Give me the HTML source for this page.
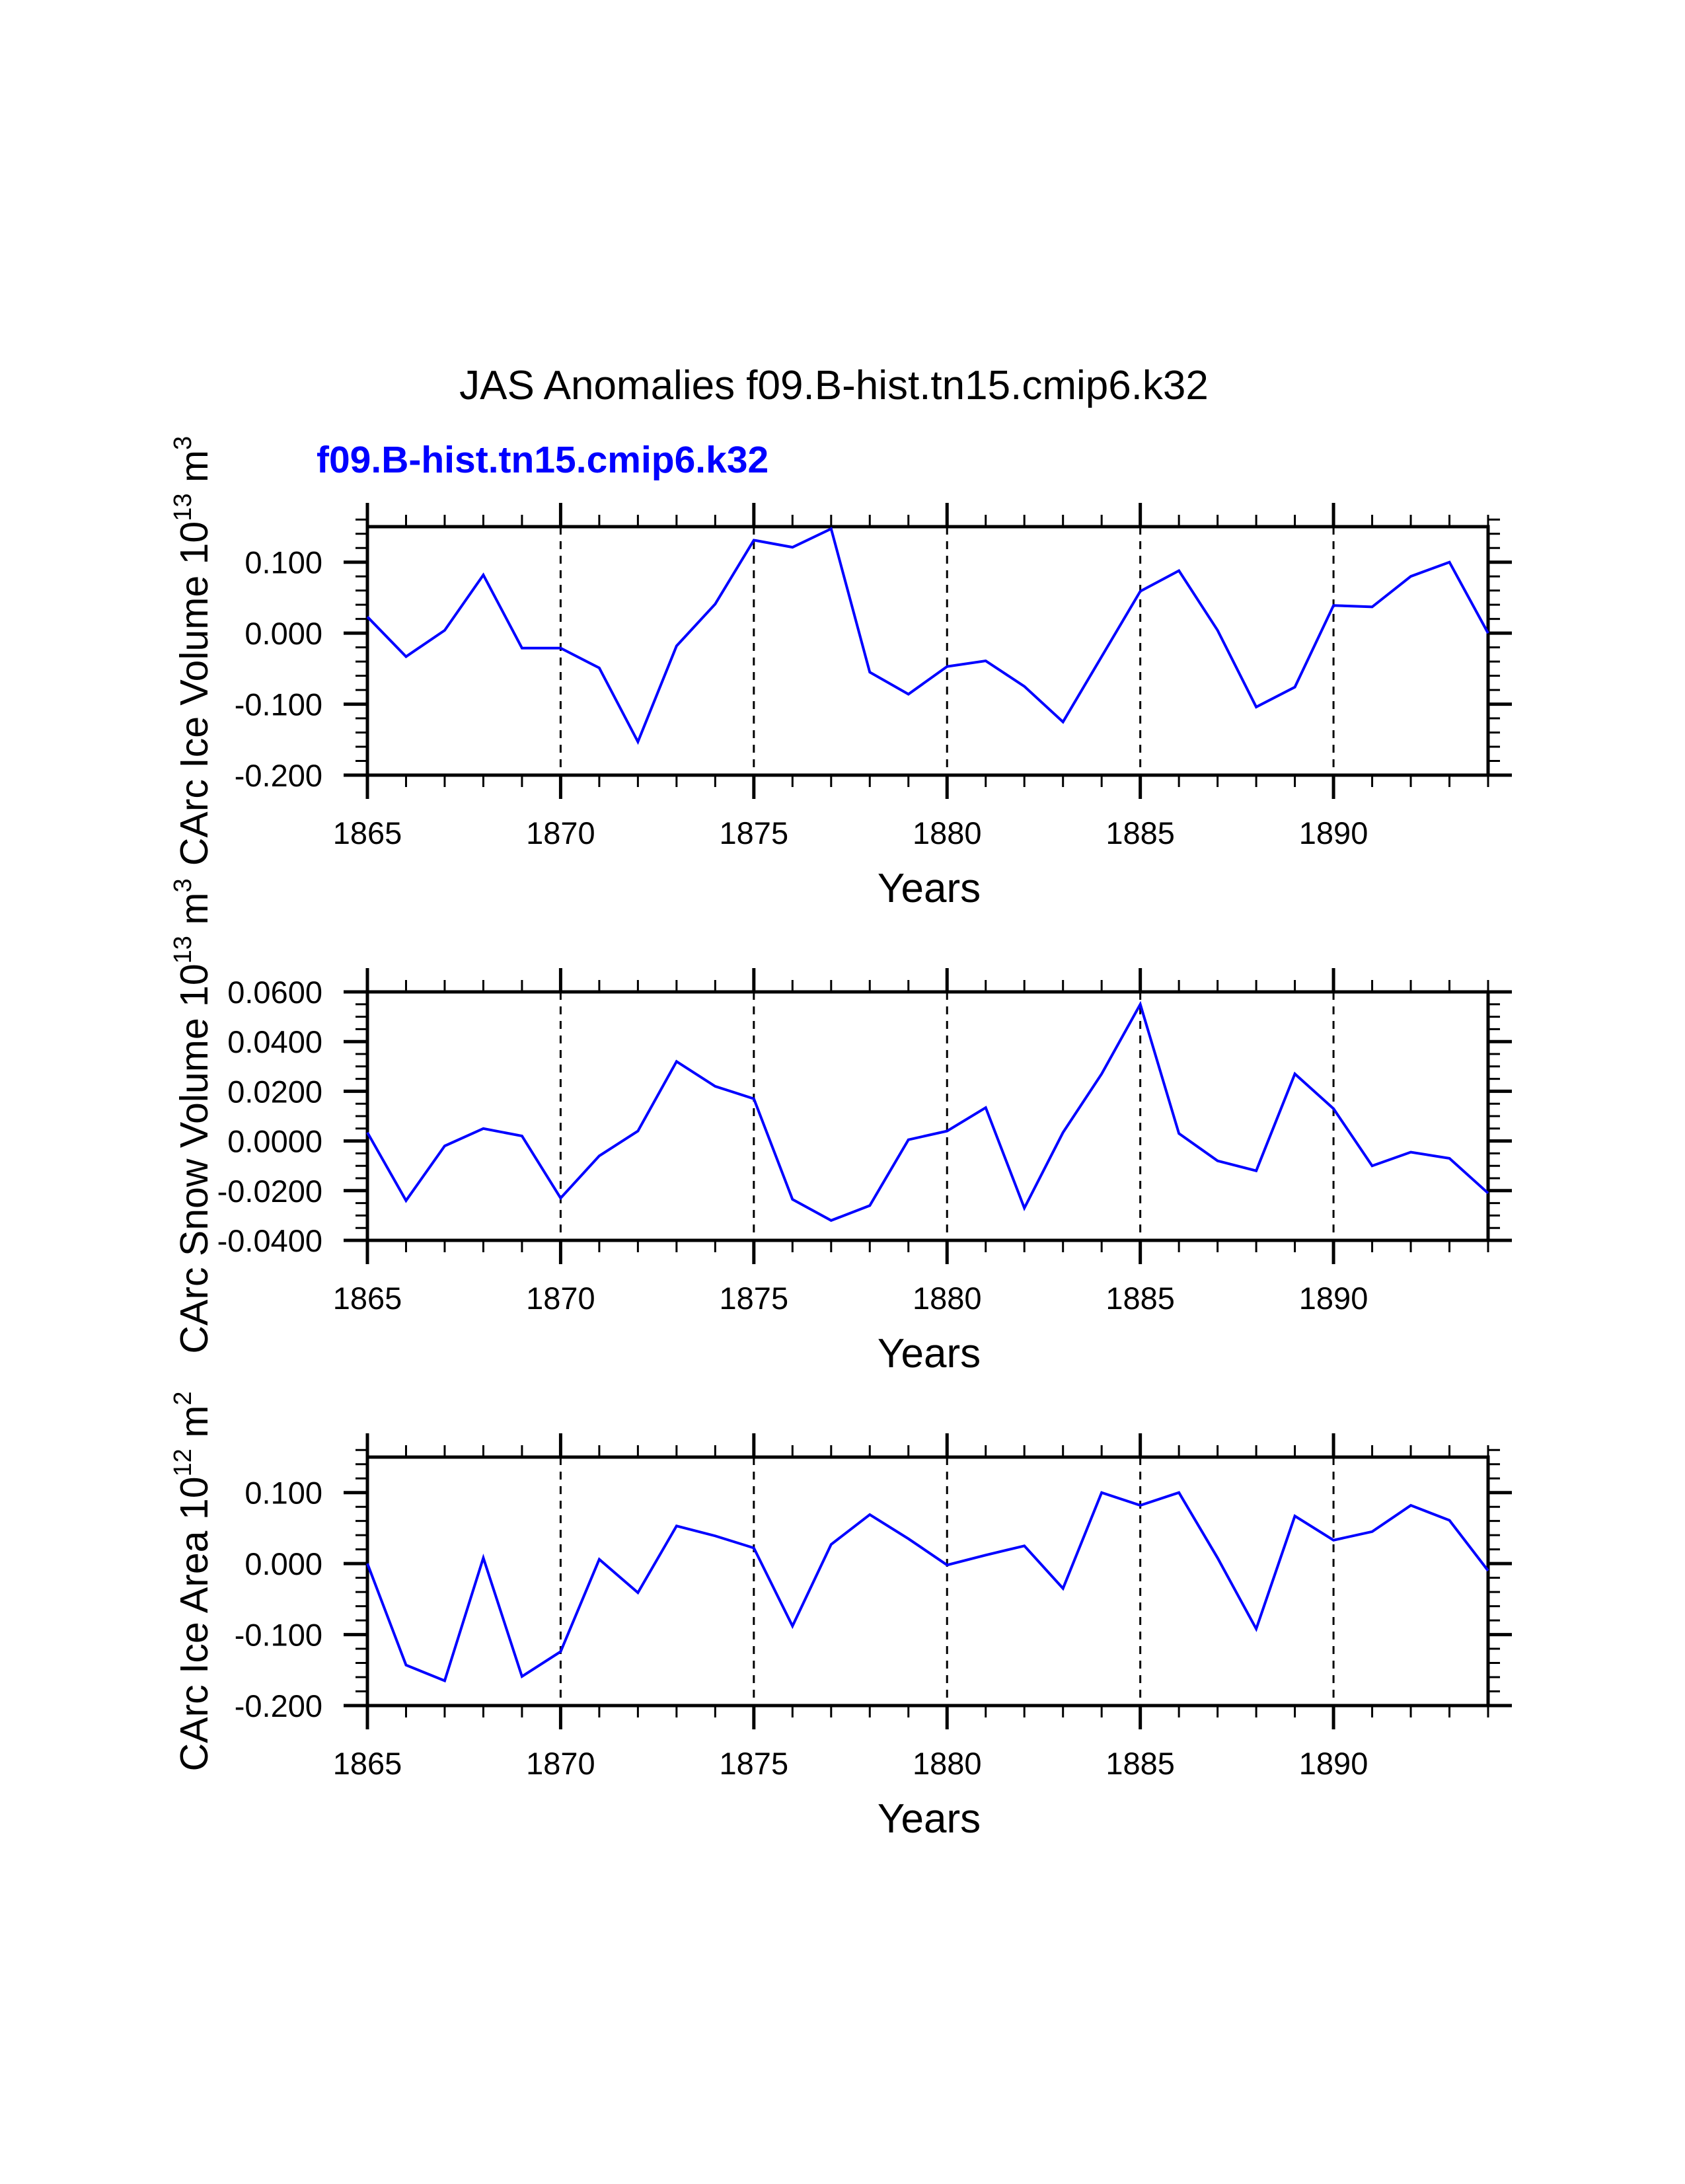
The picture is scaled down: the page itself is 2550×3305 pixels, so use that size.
<!DOCTYPE html>
<html><head><meta charset="utf-8"><style>
html,body{margin:0;padding:0;background:#fff}
svg text{font-family:"Liberation Sans",sans-serif;fill:#000}
</style></head><body>
<svg id="chart" width="2550" height="3300" xmlns="http://www.w3.org/2000/svg">
<rect width="2550" height="3300" fill="#fff"/>
<text x="1262" y="604" font-size="62" text-anchor="middle">JAS Anomalies f09.B-hist.tn15.cmip6.k32</text>
<text x="479" y="715" font-size="57" font-weight="bold" style="fill:#0000ff">f09.B-hist.tn15.cmip6.k32</text>
<g id="plots"></g>
</svg>
<script>
const years = [1865,1866,1867,1868,1869,1870,1871,1872,1873,1874,1875,1876,1877,1878,1879,1880,1881,1882,1883,1884,1885,1886,1887,1888,1889,1890,1891,1892,1893,1894];
const iceVolume = [0.023,-0.033,0.004,0.082,-0.021,-0.021,-0.049,-0.153,-0.018,0.041,0.131,0.121,0.147,-0.055,-0.086,-0.047,-0.039,-0.075,-0.125,-0.033,0.059,0.088,0.004,-0.104,-0.076,0.039,0.037,0.080,0.100,0.000];
const snowVolume = [0.0034,-0.024,-0.002,0.005,0.002,-0.023,-0.006,0.004,0.032,0.022,0.017,-0.0235,-0.032,-0.026,0.0005,0.004,0.0134,-0.027,0.0034,0.027,0.055,0.003,-0.008,-0.012,0.027,0.013,-0.010,-0.0045,-0.007,-0.021];
const iceArea = [0.0,-0.143,-0.165,0.008,-0.159,-0.124,0.006,-0.041,0.053,0.039,0.022,-0.088,0.027,0.069,0.035,-0.002,0.012,0.025,-0.035,0.100,0.082,0.100,0.008,-0.092,0.067,0.033,0.045,0.082,0.061,-0.010];
const xTickYears = [1865,1870,1875,1880,1885,1890];
const iceTicks = [-0.2,-0.1,0,0.1];
const iceTickLabels = ["-0.200","-0.100","0.000","0.100"];
const snowTicks = [-0.04,-0.02,0,0.02,0.04,0.06];
const snowTickLabels = ["-0.0400","-0.0200","0.0000","0.0200","0.0400","0.0600"];

const NS="http://www.w3.org/2000/svg";
const L=556,R=2252,H=376,XMIN=1865,XMAX=1894;
const root=document.getElementById('plots');
function mk(tag,attrs,parent){const e=document.createElementNS(NS,tag);for(const k in attrs)e.setAttribute(k,attrs[k]);parent.appendChild(e);return e;}
const xs=v=>L+(v-XMIN)*(R-L)/(XMAX-XMIN);

function panel(name,top,ymin,ymax,values,ticks,tickLabels,minorStep,titleMain,sup,unit){
  const g=mk('g',{},root);
  
  
  const B=top+H;
  const ys=v=>B-(v-ymin)*H/(ymax-ymin);
  xTickYears.slice(1).forEach(yv=>{
    const l=mk('line',{x1:xs(yv),x2:xs(yv),y1:top,y2:B,stroke:'#000','stroke-width':3,'stroke-dasharray':'12,10'},g);
    
    
  });
  for(let yv=XMIN;yv<=XMAX;yv++){
    const maj=(yv%5===0);const len=maj?36:18;const w=maj?5:3;
    mk('line',{x1:xs(yv),x2:xs(yv),y1:B,y2:B+len,stroke:'#000','stroke-width':w},g);
    mk('line',{x1:xs(yv),x2:xs(yv),y1:top,y2:top-len,stroke:'#000','stroke-width':w},g);
  }
  xTickYears.forEach(yv=>{
    const t=mk('text',{x:xs(yv),y:B+104,'font-size':47,'text-anchor':'middle'},g);t.textContent=yv;
    
    
  });
  const n=Math.round((ymax-ymin)/minorStep);
  for(let i=0;i<=n;i++){
    const v=ymin+i*minorStep;const y=ys(v);
    mk('line',{x1:L,x2:L-18,y1:y,y2:y,stroke:'#000','stroke-width':3},g);
    mk('line',{x1:R,x2:R+18,y1:y,y2:y,stroke:'#000','stroke-width':3},g);
  }
  ticks.forEach((v,i)=>{
    const y=ys(v);
    mk('line',{x1:L,x2:L-36,y1:y,y2:y,stroke:'#000','stroke-width':5},g);
    mk('line',{x1:R,x2:R+36,y1:y,y2:y,stroke:'#000','stroke-width':5},g);
    const t=mk('text',{x:L-68,y:y+17,'font-size':47,'text-anchor':'end'},g);t.textContent=tickLabels[i];
    
    
  });
  const fr=mk('rect',{x:L,y:top,width:R-L,height:H,fill:'none',stroke:'#000','stroke-width':5},g);
  
  
  const pts=values.map((v,i)=>xs(years[i])+','+ys(v)).join(' ');
  const pl=mk('polyline',{points:pts,fill:'none',stroke:'#0000ff','stroke-width':4,'stroke-linejoin':'miter'},g);
  
  
  const xt=mk('text',{x:1406,y:B+192,'font-size':62,'text-anchor':'middle'},g);xt.textContent='Years';
  
  
  const cy=top+H/2;
  const yt=mk('text',{x:0,y:0,'font-size':59,'text-anchor':'middle',transform:'translate(314,'+cy+') rotate(-90)'},g);
  
  
  const a=mk('tspan',{},yt);a.textContent=titleMain;
  const b=mk('tspan',{dy:-25,'font-size':38},yt);b.textContent=sup;
  const c=mk('tspan',{dy:25},yt);c.textContent=' m';
  const d=mk('tspan',{dy:-25,'font-size':38},yt);d.textContent=unit;
}
panel('ice-volume',797,-0.2,0.15,iceVolume,iceTicks,iceTickLabels,0.02,'CArc Ice Volume 10','13','3');
panel('snow-volume',1501,-0.04,0.06,snowVolume,snowTicks,snowTickLabels,0.005,'CArc Snow Volume 10','13','3');
panel('ice-area',2205,-0.2,0.15,iceArea,iceTicks,iceTickLabels,0.02,'CArc Ice Area 10','12','2');
</script>
</body></html>
